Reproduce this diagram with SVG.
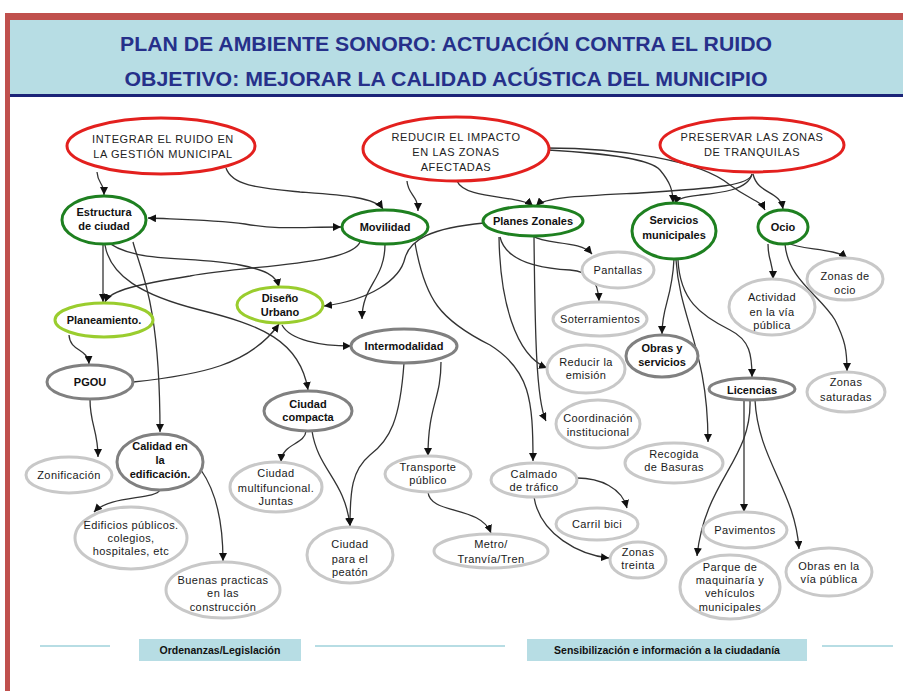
<svg xmlns="http://www.w3.org/2000/svg" width="903" height="691" viewBox="0 0 903 691">
<style>
.goal{fill:#fff;stroke:#E3201E;stroke-width:3}
.main{fill:#fff;stroke:#1E8020;stroke-width:3}
.lg{fill:#fff;stroke:#9ACD2E;stroke-width:3}
.dg{fill:#fff;stroke:#808080;stroke-width:3}
.lt{fill:#fff;stroke:#C8C8C8;stroke-width:3}
.t{font-family:"Liberation Sans",Arial,sans-serif;font-size:11px;fill:#1a1a1a;text-anchor:middle;letter-spacing:0.4px}
.tg{font-family:"Liberation Sans",Arial,sans-serif;font-size:11px;fill:#222;text-anchor:middle;letter-spacing:0.6px}
.b{font-family:"Liberation Sans",Arial,sans-serif;font-size:11px;font-weight:bold;fill:#111;text-anchor:middle}
.title{font-family:"Liberation Sans",Arial,sans-serif;font-size:21px;font-weight:bold;fill:#26308A;text-anchor:middle}
.c path{fill:none;stroke:#333;stroke-width:1.3;marker-end:url(#ah)}
.bar{fill:#B7DDE4}
.bt{font-family:"Liberation Sans",Arial,sans-serif;font-size:10.5px;font-weight:bold;fill:#111;text-anchor:middle}
</style>
<defs>
<marker id="ah" markerUnits="userSpaceOnUse" markerWidth="9" markerHeight="8" refX="8" refY="4" orient="auto-start-reverse">
<path d="M0,0 L8,4 L0,8 z" fill="#111"/>
</marker>
</defs>
<rect x="0" y="0" width="903" height="691" fill="#fff"/>
<g id="frame">
<rect x="5" y="13" width="898" height="678" fill="#C0504D"/>
<rect x="10" y="20" width="893" height="671" fill="#fff"/>
<rect x="10" y="20" width="893" height="74" fill="#B7DDE4"/>
<rect x="10" y="94" width="893" height="3" fill="#1B2478"/>
<text class="title" x="446" y="51" textLength="652" lengthAdjust="spacingAndGlyphs">PLAN DE AMBIENTE SONORO: ACTUACIÓN CONTRA EL RUIDO</text>
<text class="title" x="446" y="86" textLength="643" lengthAdjust="spacingAndGlyphs">OBJETIVO: MEJORAR LA CALIDAD ACÚSTICA DEL MUNICIPIO</text>
</g>
<g id="connectors" class="c">
<path d="M97 172 C98 185,104 182,104 195"/>
<path d="M226 168 C232 186,260 188,300 192 C340 195,375 197,383 209"/>
<path d="M148 218 C200 220,215 220,245 224 C280 230,300 227,341 227" style="marker-start:url(#ah)"/>
<path d="M103 245 L103 302"/>
<path d="M360 242 C350 265,250 265,190 276 C140 284,110 290,105 302"/>
<path d="M103 238 C130 265,190 255,240 265 C265 270,276 275,279 287"/>
<path d="M105 245 C110 275,140 295,200 310 C260 325,300 340,308 390"/>
<path d="M133 242 C140 270,160 300,160 432"/>
<path d="M69 335 C70 352,88 348,89 364"/>
<path d="M133 382 C200 375,250 365,279 324"/>
<path d="M282 325 C290 340,320 346,351 346"/>
<path d="M385 244 C385 280,362 285,362 319"/>
<path d="M484 223 C430 228,410 240,405 258 C400 280,370 300,324 306"/>
<path d="M415 243 C425 300,440 320,490 345 C530 370,533 400,533 461"/>
<path d="M407 181 C408 195,418 195,418 211"/>
<path d="M457 181 C465 200,520 195,533 206"/>
<path d="M752 174 C750 185,720 188,640 193 C580 196,545 197,536 206"/>
<path d="M752 174 C748 190,720 193,700 195 C685 197,677 198,675 204"/>
<path d="M548 150 C600 153,650 158,660 170 C670 182,673 190,673 203"/>
<path d="M546 148 C620 148,700 160,730 185 C750 200,760 200,765 210"/>
<path d="M753 174 C758 195,780 190,783 209"/>
<path d="M533 236 C545 245,580 240,592 254"/>
<path d="M500 237 C505 258,530 268,570 270 C590 272,598 280,599 301"/>
<path d="M499 237 C500 300,515 355,547 368"/>
<path d="M534 237 C535 330,536 400,546 421"/>
<path d="M674 259 C672 300,662 305,662 334"/>
<path d="M676 260 C680 320,708 350,708 442"/>
<path d="M678 260 C680 300,700 315,730 330 C750 340,752 355,752 377"/>
<path d="M768 244 C768 262,773 260,773 279"/>
<path d="M788 243 C800 250,835 248,847 258"/>
<path d="M785 244 C788 280,820 295,835 320 C845 340,847 350,847 371"/>
<path d="M90 399 C90 425,98 430,98 457"/>
<path d="M160 490 C155 500,110 495,94 512"/>
<path d="M201 470 C215 490,223 520,223 561"/>
<path d="M306 431 C305 445,282 443,281 462"/>
<path d="M312 431 C318 470,345 480,350 526"/>
<path d="M404 363 C400 420,390 440,370 455 C352 470,350 490,350 526"/>
<path d="M441 362 C441 400,428 405,428 456"/>
<path d="M428 492 C430 515,480 505,491 533"/>
<path d="M577 478 C600 478,622 488,627 508"/>
<path d="M534 497 C540 535,580 555,609 558"/>
<path d="M744 400 L744 512"/>
<path d="M750 400 C752 460,705 480,697 556"/>
<path d="M755 400 C758 460,795 490,799 549"/>
</g>
<g id="n-integrar"><ellipse class="goal" cx="161" cy="146" rx="94" ry="28"/><text class="tg" x="163" y="143">INTEGRAR EL RUIDO EN</text><text class="tg" x="163" y="158">LA GESTIÓN MUNICIPAL</text></g>
<g id="n-reducir"><ellipse class="goal" cx="456" cy="149" rx="93" ry="32"/><text class="tg" x="456" y="141">REDUCIR EL IMPACTO</text><text class="tg" x="456" y="156">EN LAS ZONAS</text><text class="tg" x="456" y="171">AFECTADAS</text></g>
<g id="n-preservar"><ellipse class="goal" cx="752" cy="145" rx="92" ry="27"/><text class="tg" x="752" y="141">PRESERVAR LAS ZONAS</text><text class="tg" x="752" y="156">DE TRANQUILAS</text></g>
<g id="n-estructura"><ellipse class="main" cx="104" cy="220" rx="42" ry="24"/><text class="b" x="104" y="216">Estructura</text><text class="b" x="104" y="230">de ciudad</text></g>
<g id="n-movilidad"><ellipse class="main" cx="385" cy="227" rx="43" ry="17"/><text class="b" x="385" y="231">Movilidad</text></g>
<g id="n-planes"><ellipse class="main" cx="533" cy="221" rx="50" ry="15"/><text class="b" x="533" y="225">Planes Zonales</text></g>
<g id="n-servicios"><ellipse class="main" cx="674" cy="231" rx="42" ry="28"/><text class="b" x="674" y="224">Servicios</text><text class="b" x="674" y="239">municipales</text></g>
<g id="n-ocio"><ellipse class="main" cx="783" cy="227" rx="25" ry="17"/><text class="b" x="783" y="231">Ocio</text></g>
<g id="n-diseno"><ellipse class="lg" cx="280" cy="305" rx="43" ry="18"/><text class="b" x="280" y="302">Diseño</text><text class="b" x="280" y="316">Urbano</text></g>
<g id="n-planeamiento"><ellipse class="lg" cx="104" cy="320" rx="49" ry="17"/><text class="b" x="104" y="324">Planeamiento.</text></g>
<g id="n-pgou"><ellipse class="dg" cx="90" cy="382" rx="43" ry="17"/><text class="b" x="90" y="386">PGOU</text></g>
<g id="n-intermodalidad"><ellipse class="dg" cx="404" cy="346" rx="53" ry="17"/><text class="b" x="404" y="350">Intermodalidad</text></g>
<g id="n-compacta"><ellipse class="dg" cx="308" cy="411" rx="44" ry="20"/><text class="b" x="308" y="408">Ciudad</text><text class="b" x="308" y="421">compacta</text></g>
<g id="n-calidad"><ellipse class="dg" cx="160" cy="462" rx="43" ry="28"/><text class="b" x="160" y="450">Calidad en</text><text class="b" x="160" y="464">la</text><text class="b" x="160" y="478">edificación.</text></g>
<g id="n-obras"><ellipse class="dg" cx="662" cy="356" rx="36" ry="21"/><text class="b" x="662" y="352">Obras y</text><text class="b" x="662" y="366">servicios</text></g>
<g id="n-licencias"><ellipse class="dg" cx="752" cy="389" rx="43" ry="11"/><text class="b" x="752" y="394">Licencias</text></g>
<g id="n-pantallas"><ellipse class="lt" cx="618" cy="270" rx="36" ry="18"/><text class="t" x="618" y="274">Pantallas</text></g>
<g id="n-soterramientos"><ellipse class="lt" cx="600" cy="319" rx="47" ry="17"/><text class="t" x="600" y="323">Soterramientos</text></g>
<g id="n-emision"><ellipse class="lt" cx="586" cy="369" rx="39" ry="24"/><text class="t" x="586" y="366">Reducir la</text><text class="t" x="586" y="379">emisión</text></g>
<g id="n-coordinacion"><ellipse class="lt" cx="598" cy="424" rx="42" ry="24"/><text class="t" x="598" y="422">Coordinación</text><text class="t" x="598" y="436">institucional</text></g>
<g id="n-zonasocio"><ellipse class="lt" cx="845" cy="279" rx="38" ry="21"/><text class="t" x="845" y="280">Zonas de</text><text class="t" x="845" y="294">ocio</text></g>
<g id="n-actividad"><ellipse class="lt" cx="772" cy="307" rx="43" ry="28"/><text class="t" x="772" y="301">Actividad</text><text class="t" x="772" y="316">en la vía</text><text class="t" x="772" y="329">pública</text></g>
<g id="n-saturadas"><ellipse class="lt" cx="846" cy="392" rx="39" ry="20"/><text class="t" x="846" y="386">Zonas</text><text class="t" x="846" y="401">saturadas</text></g>
<g id="n-recogida"><ellipse class="lt" cx="674" cy="463" rx="49" ry="20"/><text class="t" x="674" y="458">Recogida</text><text class="t" x="674" y="471">de Basuras</text></g>
<g id="n-zonificacion"><ellipse class="lt" cx="69" cy="475" rx="43" ry="18"/><text class="t" x="69" y="479">Zonificación</text></g>
<g id="n-multifuncional"><ellipse class="lt" cx="276" cy="487" rx="46" ry="25"/><text class="t" x="276" y="477">Ciudad</text><text class="t" x="276" y="492">multifuncional.</text><text class="t" x="276" y="505">Juntas</text></g>
<g id="n-transporte"><ellipse class="lt" cx="428" cy="474" rx="43" ry="18"/><text class="t" x="428" y="471">Transporte</text><text class="t" x="428" y="484">público</text></g>
<g id="n-calmado"><ellipse class="lt" cx="534" cy="480" rx="43" ry="17"/><text class="t" x="534" y="478">Calmado</text><text class="t" x="534" y="491">de tráfico</text></g>
<g id="n-carril"><ellipse class="lt" cx="597" cy="524" rx="41" ry="16"/><text class="t" x="597" y="528">Carril bici</text></g>
<g id="n-treinta"><ellipse class="lt" cx="638" cy="560" rx="28" ry="18"/><text class="t" x="638" y="556">Zonas</text><text class="t" x="638" y="569">treinta</text></g>
<g id="n-pavimentos"><ellipse class="lt" cx="745" cy="530" rx="42" ry="18"/><text class="t" x="745" y="534">Pavimentos</text></g>
<g id="n-parque"><ellipse class="lt" cx="730" cy="587" rx="50" ry="32"/><text class="t" x="730" y="571">Parque de</text><text class="t" x="730" y="584">maquinaría y</text><text class="t" x="730" y="597">vehículos</text><text class="t" x="730" y="611">municipales</text></g>
<g id="n-obrasvia"><ellipse class="lt" cx="829" cy="572" rx="43" ry="24"/><text class="t" x="829" y="570">Obras en la</text><text class="t" x="829" y="583">vía pública</text></g>
<g id="n-edificios"><ellipse class="lt" cx="131" cy="538" rx="56" ry="31"/><text class="t" x="131" y="529">Edificios públicos.</text><text class="t" x="131" y="542">colegios,</text><text class="t" x="131" y="555">hospitales, etc</text></g>
<g id="n-buenas"><ellipse class="lt" cx="223" cy="590" rx="57" ry="28"/><text class="t" x="223" y="584">Buenas practicas</text><text class="t" x="223" y="597">en las</text><text class="t" x="223" y="611">construcción</text></g>
<g id="n-peaton"><ellipse class="lt" cx="350" cy="555" rx="43" ry="28"/><text class="t" x="350" y="548">Ciudad</text><text class="t" x="350" y="563">para el</text><text class="t" x="350" y="576">peatón</text></g>
<g id="n-metro"><ellipse class="lt" cx="491" cy="551" rx="57" ry="17"/><text class="t" x="491" y="548">Metro/</text><text class="t" x="491" y="563">Tranvía/Tren</text></g>
<g id="footer">
<rect class="bar" x="40" y="645" width="70" height="2"/>
<rect class="bar" x="139" y="639" width="162" height="22"/>
<text class="bt" x="220" y="654">Ordenanzas/Legislación</text>
<rect class="bar" x="315" y="645" width="190" height="2"/>
<rect class="bar" x="527" y="639" width="280" height="22"/>
<text class="bt" x="667" y="654">Sensibilización e información a la ciudadanía</text>
<rect class="bar" x="822" y="645" width="71" height="2"/>
</g>
</svg>
